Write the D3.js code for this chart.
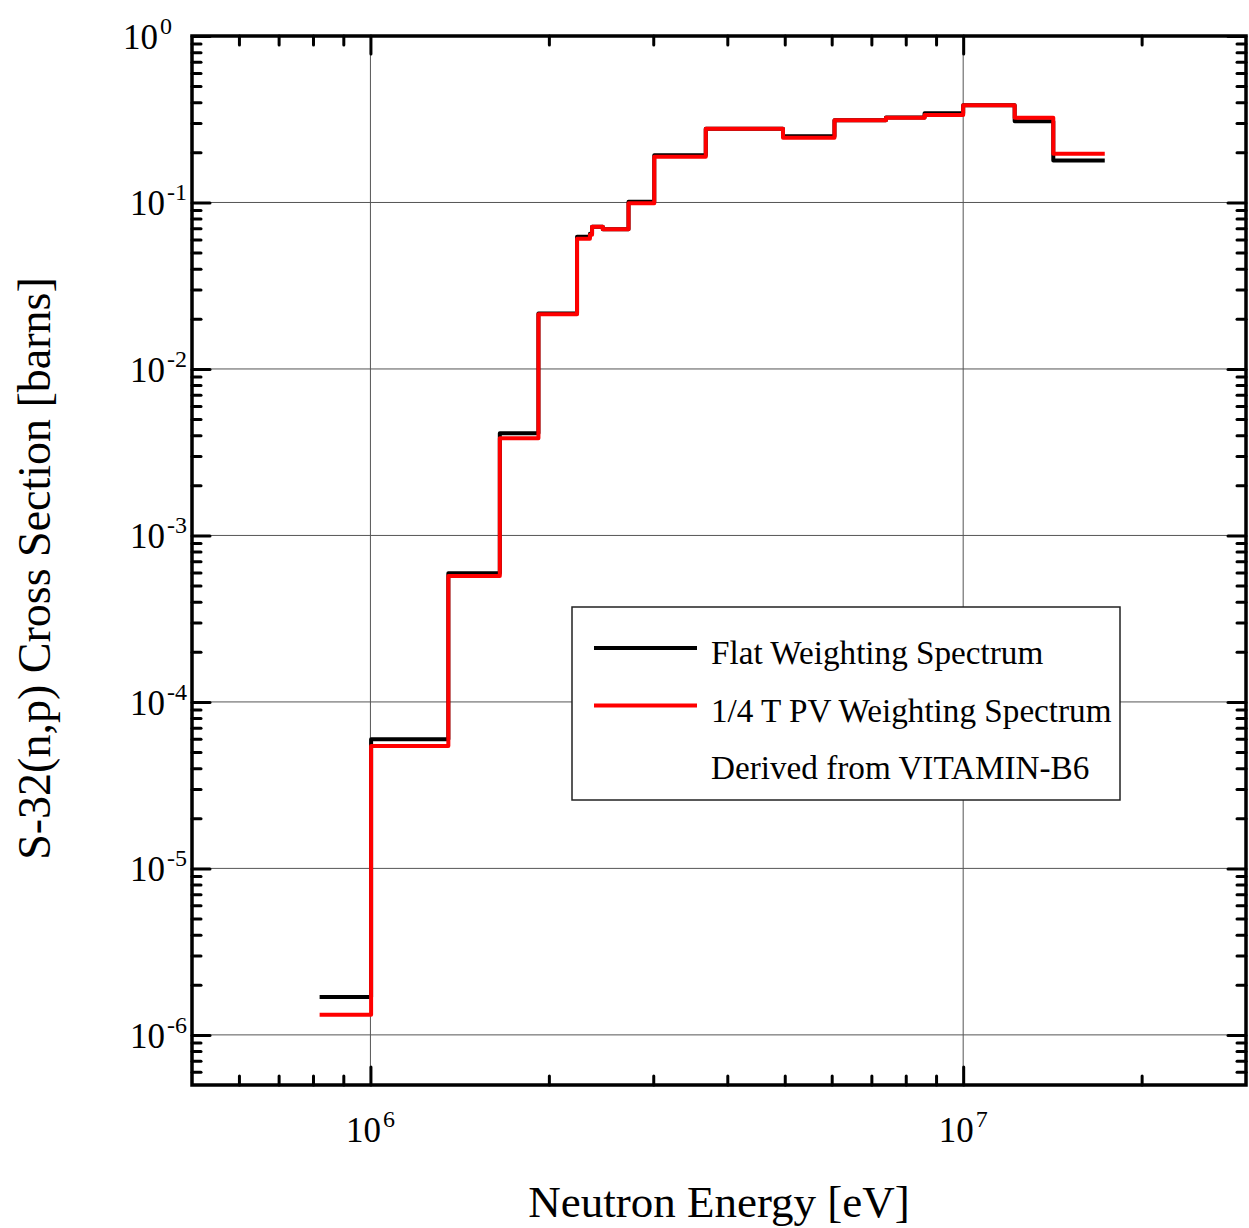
<!DOCTYPE html>
<html>
<head>
<meta charset="utf-8">
<script src="https://cdn.jsdelivr.net/npm/d3@7/dist/d3.min.js"></script>
<style>
  html, body { margin: 0; padding: 0; background: #fff; }
  svg { display: block; }
  text { font-family: "Liberation Serif", "Times New Roman", serif; fill: #000; }
</style>
</head>
<body>
<svg id="chart" width="1249" height="1228"></svg>
<script>
// Group boundaries (eV) of the collapsed VITAMIN-B6 energy structure
const binEdges = [8.2085e5, 1.0026e6, 1.3534e6, 1.6530e6, 1.9205e6, 2.2313e6, 2.3457e6,
  2.3653e6, 2.4660e6, 2.7253e6, 3.0119e6, 3.6788e6, 4.9659e6, 6.0653e6, 7.4082e6,
  8.6071e6, 1.0000e7, 1.2214e7, 1.4191e7, 1.7332e7];

// Group-averaged S-32(n,p) cross sections (barns), one value per group
const flatValues = [1.69e-6, 5.97e-5, 5.93e-4, 4.11e-3, 0.0215, 0.0622, 0.065, 0.0715,
  0.069, 0.101, 0.192, 0.277, 0.250, 0.312, 0.324, 0.343, 0.384, 0.308, 0.179];
const pvValues = [1.32e-6, 5.44e-5, 5.71e-4, 3.84e-3, 0.0213, 0.0605, 0.064, 0.0715,
  0.069, 0.099, 0.188, 0.277, 0.245, 0.312, 0.323, 0.335, 0.384, 0.323, 0.196];

const seriesNames = ["Flat Weighting Spectrum", "1/4 T PV Weighting Spectrum"];
const seriesColors = ["#000000", "#ff0000"];
const legendNote = "Derived from VITAMIN-B6";

const xDomain = [5e5, 3e7];
const yDomain = [5e-7, 1];
const xMajorExponents = [6, 7];
const yMajorExponents = [0, -1, -2, -3, -4, -5, -6];
const xTitle = "Neutron Energy [eV]";
const yTitle = "S-32(n,p) Cross Section [barns]";

const svg = d3.select("#chart");
const plot = { left: 192, right: 1246, top: 36, bottom: 1085 };

const x = d3.scaleLog().domain(xDomain).range([plot.left, plot.right]);
const y = d3.scaleLog().domain(yDomain).range([plot.bottom, plot.top]);

// minor ticks: 2..9 multiples of each decade inside the domain
function minorTicks(domain) {
  const out = [];
  const lo = Math.floor(Math.log10(domain[0])), hi = Math.ceil(Math.log10(domain[1]));
  for (let e = lo; e <= hi; e++) {
    for (let m = 2; m <= 9; m++) {
      const v = m * Math.pow(10, e);
      if (v >= domain[0] * 0.9999 && v <= domain[1] * 1.0001) out.push(v);
    }
  }
  return out;
}
const xMajor = xMajorExponents.map(e => Math.pow(10, e));
const yMajor = yMajorExponents.map(e => Math.pow(10, e));
const xMinor = minorTicks(xDomain).filter(v => x(v) > plot.left + 2 && x(v) < plot.right - 2);
const yMinor = minorTicks(yDomain).filter(v => y(v) < plot.bottom - 2 && y(v) > plot.top + 2);

// grid
const grid = svg.append("g").attr("stroke", "#555").attr("stroke-width", 1);
grid.selectAll("line.gx").data(xMajor).join("line")
  .attr("x1", d => x(d)).attr("x2", d => x(d))
  .attr("y1", plot.top).attr("y2", plot.bottom);
grid.selectAll("line.gy").data(yMajor).join("line")
  .attr("x1", plot.left).attr("x2", plot.right)
  .attr("y1", d => y(d)).attr("y2", d => y(d));

// step curves
const line = d3.line()
  .x(d => x(d[0]))
  .y(d => y(d[1]))
  .curve(d3.curveStepAfter);
function stepPoints(values) {
  const pts = values.map((v, i) => [binEdges[i], v]);
  pts.push([binEdges[binEdges.length - 1], values[values.length - 1]]);
  return pts;
}
[flatValues, pvValues].forEach((vals, i) => {
  svg.append("path")
    .attr("d", line(stepPoints(vals)))
    .attr("fill", "none")
    .attr("stroke", seriesColors[i])
    .attr("stroke-width", 4)
    .attr("stroke-linejoin", "round")
    .attr("stroke-linecap", "butt");
});

// axes: ticks pointing inward on all four sides
const majorLen = 18, minorLen = 9, tickW = 3;
function styleAxis(g) {
  g.select(".domain").remove();
  g.selectAll(".tick line").attr("stroke", "#000").attr("stroke-width", tickW).attr("stroke-linecap", "round");
  g.selectAll(".tick text").remove();
}
const axes = [
  [d3.axisBottom(x), `translate(0,${plot.bottom})`, xMajor, xMinor],
  [d3.axisTop(x), `translate(0,${plot.top})`, xMajor, xMinor],
  [d3.axisLeft(y), `translate(${plot.left},0)`, yMajor, yMinor],
  [d3.axisRight(y), `translate(${plot.right},0)`, yMajor, yMinor]
];
axes.forEach(([axisFn, tr, major, minor]) => {
  svg.append("g").attr("transform", tr)
    .call(axisFn.tickValues(major).tickSize(-majorLen).tickFormat(() => ""))
    .call(styleAxis);
  svg.append("g").attr("transform", tr)
    .call(axisFn.tickValues(minor).tickSize(-minorLen).tickFormat(() => ""))
    .call(styleAxis);
});

// frame
svg.append("rect")
  .attr("x", plot.left).attr("y", plot.top)
  .attr("width", plot.right - plot.left).attr("height", plot.bottom - plot.top)
  .attr("fill", "none").attr("stroke", "#000").attr("stroke-width", 3.5);

// tick labels as 10 with superscript exponent
const baseSize = 35, supSize = 24;
function powerLabel(sel, exp) {
  sel.append("tspan").attr("font-size", baseSize).text("10");
  sel.append("tspan").attr("font-size", supSize).attr("dy", -15).attr("dx", 2)
    .text(exp < 0 ? "-" + Math.abs(exp) : String(exp));
}
xMajorExponents.forEach(e => {
  svg.append("text")
    .attr("x", x(Math.pow(10, e))).attr("y", plot.bottom + 57)
    .attr("text-anchor", "middle")
    .call(powerLabel, e);
});
yMajorExponents.forEach(e => {
  svg.append("text")
    .attr("x", plot.left - (e === 0 ? 20 : 5)).attr("y", y(Math.pow(10, e)) + 13)
    .attr("text-anchor", "end")
    .call(powerLabel, e);
});

// axis titles
svg.append("text")
  .attr("x", (plot.left + plot.right) / 2).attr("y", 1217)
  .attr("text-anchor", "middle").attr("font-size", 45)
  .text(xTitle);
svg.append("text")
  .attr("transform", `translate(50,${(plot.top + plot.bottom) / 2 + 8}) rotate(-90)`)
  .attr("text-anchor", "middle").attr("font-size", 46)
  .text(yTitle);

// legend
const lg = svg.append("g");
lg.append("rect")
  .attr("x", 572).attr("y", 607).attr("width", 548).attr("height", 193)
  .attr("fill", "#fff").attr("stroke", "#222").attr("stroke-width", 1.5);
const legendRows = [
  { label: seriesNames[0], color: seriesColors[0] },
  { label: seriesNames[1], color: seriesColors[1] },
  { label: legendNote, color: null }
];
legendRows.forEach((r, i) => {
  const cy = 648 + i * 57.5;
  if (r.color) {
    lg.append("line")
      .attr("x1", 594).attr("x2", 697).attr("y1", cy).attr("y2", cy)
      .attr("stroke", r.color).attr("stroke-width", 4);
  }
  lg.append("text")
    .attr("x", 711).attr("y", cy + 16)
    .attr("font-size", 33.2)
    .text(r.label);
});
</script>
</body>
</html>
